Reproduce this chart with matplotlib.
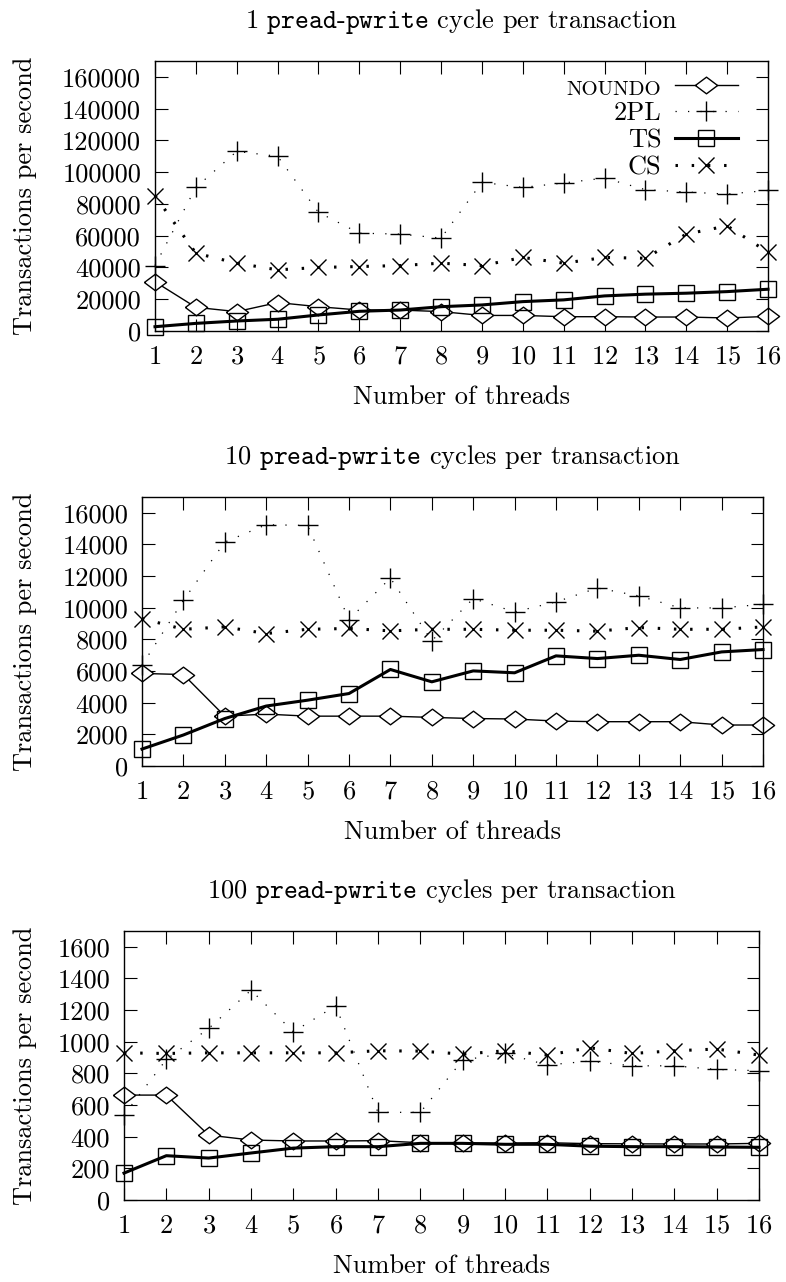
import matplotlib
matplotlib.use("Agg")
import matplotlib.pyplot as plt

plt.rcParams['font.family'] = ['cmr10', 'DejaVu Serif']
plt.rcParams['mathtext.fontset'] = 'cm'
plt.rcParams['axes.formatter.use_mathtext'] = True

threads = list(range(1, 17))
series = ["NOUNDO", "2PL", "TS", "CS"]

# 1 pread-pwrite cycle per transaction
noundo_1 = [31000, 14900, 12200, 17900, 15300, 13200, 13200, 12200,
            9800, 9800, 9000, 9000, 8800, 8800, 8200, 9200]
pl2_1 = [41200, 90400, 113100, 110000, 74700, 61600, 61000, 58500,
         93600, 90400, 93200, 96300, 89000, 87500, 86200, 88500]
ts_1 = [2700, 4800, 6300, 7400, 10100, 12400, 13200, 15300,
        16400, 18500, 19600, 22100, 23200, 23800, 24800, 26300]
cs_1 = [85200, 49000, 42700, 38500, 40000, 40600, 41200, 42700,
        41200, 46300, 42700, 46300, 45800, 61000, 66200, 49600]

# 10 cycles
noundo_10 = [5850, 5780, 3150, 3280, 3150, 3150, 3150, 3070,
             3000, 2970, 2840, 2800, 2800, 2800, 2590, 2590]
pl2_10 = [6370, 10470, 14150, 15250, 15200, 9250, 11880, 7910,
          10580, 9740, 10370, 11250, 10750, 9990, 9990, 10220]
ts_10 = [1070, 1960, 3000, 3790, 4160, 4580, 6100, 5320,
         6010, 5890, 6960, 6790, 7000, 6730, 7210, 7360]
cs_10 = [9320, 8640, 8790, 8370, 8640, 8690, 8540, 8640,
         8640, 8580, 8580, 8520, 8750, 8640, 8640, 8790]

# 100 cycles
noundo_100 = [663, 663, 410, 379, 373, 373, 375, 362,
              360, 360, 362, 356, 355, 354, 354, 358]
pl2_100 = [537, 888, 1084, 1326, 1063, 1227, 554, 554,
           884, 926, 853, 878, 848, 848, 825, 817]
ts_100 = [170, 280, 265, 297, 328, 337, 337, 358,
          358, 352, 352, 340, 337, 337, 335, 333]
cs_100 = [930, 926, 930, 930, 930, 930, 943, 941,
          922, 943, 916, 962, 926, 943, 954, 916]

panels = [
    ("1", "cycle", [noundo_1, pl2_1, ts_1, cs_1], 170000, 20000),
    ("10", "cycles", [noundo_10, pl2_10, ts_10, cs_10], 17000, 2000),
    ("100", "cycles", [noundo_100, pl2_100, ts_100, cs_100], 1700, 200),
]

# axes boxes in pixels: left, right, top, bottom
boxes = [(155, 768, 61, 331), (142, 763, 497, 766), (124, 759, 931, 1200)]

W, H = 786, 1282
fig = plt.figure(figsize=(W / 100, H / 100), dpi=100)

# gnuplot diamond is a bit wider than tall here
diamond = [(-1, 0), (0, 0.75), (1, 0), (0, -0.75), (-1, 0)]

styles = [
    dict(color='black', lw=1.0, ls='-', marker=diamond, ms=16, mfc='white', mew=1.0),
    dict(color='black', lw=0.9, ls=(0, (1, 9)), marker='+', ms=14, mew=1.0),
    dict(color='black', lw=2.2, ls='-', marker='s', ms=11, mfc='none', mew=1.0),
    dict(color='black', lw=2.2, ls=(0, (0.8, 4.5)), marker='x', ms=11, mew=1.0),
]
fs = 19

for i, (n, word, data, ymax, step) in enumerate(panels):
    l, r, t, b = boxes[i]
    ax = fig.add_axes([l / W, 1 - b / H, (r - l) / W, (b - t) / H])
    for name, vals, st in zip(series, data, styles):
        ax.plot(threads, vals, label=name, **st, clip_on=False)
    ax.set_xlim(1, 16)
    ax.set_ylim(0, ymax)
    ax.set_xticks(threads)
    yt = list(range(0, ymax, step))
    ax.set_yticks(yt)
    ax.set_yticklabels([str(v) for v in yt])
    ax.tick_params(direction='in', length=9, width=0.8, top=True, right=True,
                   labelsize=fs, pad=10)
    for sp in ax.spines.values():
        sp.set_linewidth(1.0)
    hpx = b - t
    wpx = r - l
    ax.text(0.5, 1 + 40 / hpx,
            n + r" $\mathtt{pread}$-$\mathtt{pwrite}$ " + word + " per transaction",
            transform=ax.transAxes, ha='center', va='center', fontsize=fs)
    ax.text(0.5, -66 / hpx, "Number of threads", transform=ax.transAxes,
            ha='center', va='center', fontsize=fs)
    ax.text((25 - l) / wpx, 0.5, "Transactions per second", transform=ax.transAxes,
            ha='center', va='center', rotation=90, fontsize=fs)
    if i == 0:
        leg = ax.legend(loc='upper right', bbox_to_anchor=(0.951, 0.944),
                        frameon=False, markerfirst=False, fontsize=fs,
                        handlelength=2.4, handletextpad=0.5, labelspacing=0.12,
                        borderpad=0, borderaxespad=0)
        leg.get_texts()[0].set_fontsize(15)

fig.savefig("out.png", dpi=100)
